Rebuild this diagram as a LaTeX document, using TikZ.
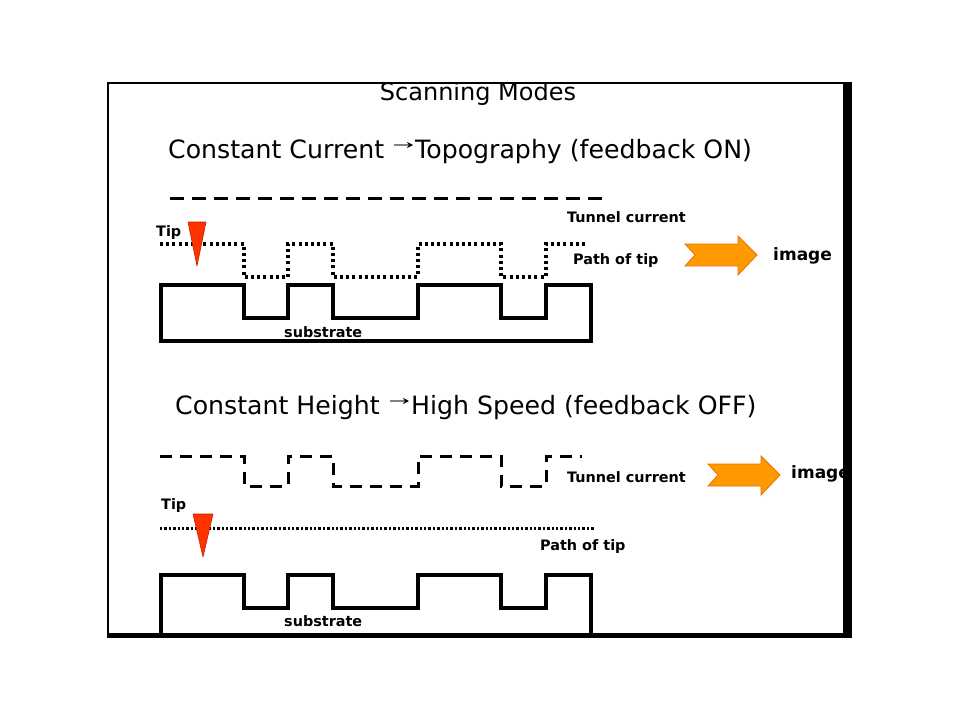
\documentclass[tikz,border=0pt]{standalone}
\usepackage{fontspec}
\setmainfont{DejaVu Sans}
\usetikzlibrary{positioning, calc, arrows.meta}

\definecolor{tipred}{RGB}{255,51,0}
\definecolor{tipedge}{RGB}{200,30,0}
\definecolor{arroworange}{RGB}{255,153,0}
\definecolor{arrowedge}{RGB}{235,110,0}

\tikzset{
  titletext/.style={anchor=base, inner sep=0pt, font=\fontsize{24}{28}\selectfont},
  heading/.style={anchor=base west, inner sep=0pt, font=\fontsize{25.2}{28}\selectfont},
  smalltext/.style={anchor=base west, inner sep=0pt, font=\fontsize{14.4}{16}\selectfont\bfseries},
  imagetext/.style={anchor=base west, inner sep=0pt, font=\fontsize{17}{20}\selectfont\bfseries},
  substrate/.style={line width=3.5pt, line join=miter},
  tippath/.style={line width=3.2pt, dash pattern=on 3pt off 3.2pt},
  tippathdense/.style={line width=3pt, dash pattern=on 2.4pt off 2pt},
  tunnel/.style={line width=3pt, dash pattern=on 14pt off 8pt},
  tipmark/.style={fill=tipred, draw=tipedge, line width=0.6pt, line join=round},
  bigarrow/.style={fill=arroworange, draw=arrowedge, line width=0.8pt, line join=miter},
  smallarrow/.style={draw=gray, line width=1.5pt, -{Stealth[black, length=6pt, width=6pt]}}
}

\begin{document}
\begin{tikzpicture}[x=1pt, y=-1pt]
  \useasboundingbox (0,0) rectangle (960,720);

  \begin{scope}
    \clip (108,83) rectangle (852,638);

    % Title
    \node[titletext] (title) at (478,100) {Scanning Modes};

    % Constant current mode
    \node[heading] (cc) at (168,158) {Constant Current};
    \node[heading] (topo) at (415,158) {Topography (feedback ON)};
    \draw[smallarrow] ($(cc.base east)+(10,-13)$) -- ($(topo.base west)+(-2,-13)$);

    \draw[tunnel] (170,198) -- (605,198);
    \node[smalltext] (tunnel1) at (567,222) {Tunnel current};
    \node[smalltext] (tip1) at (156,236) {Tip};
    \node[smalltext] (path1) at (573,264) {Path of tip};

    \draw[tippath] (160,244) -- (244,244) -- (244,277) -- (288,277) -- (288,244)
      -- (333,244) -- (333,277) -- (418,277) -- (418,244) -- (501,244)
      -- (501,277) -- (546,277) -- (546,244) -- (587,244);
    \draw[tipmark] (188,222) -- (206,222) -- (197,266) -- cycle;

    \draw[substrate] (161,285) -- (244,285) -- (244,318) -- (288,318) -- (288,285)
      -- (333,285) -- (333,318) -- (418,318) -- (418,285) -- (501,285)
      -- (501,318) -- (546,318) -- (546,285) -- (591,285) -- (591,341)
      -- (161,341) -- cycle;
    \node[smalltext] (sub1) at (284,337) {substrate};

    \draw[bigarrow] (685,244) -- (738,244) -- (738,236) -- (757,255) -- (738,275)
      -- (738,266) -- (685,266) -- (695,255) -- cycle;
    \node[imagetext] (image1) at (773,260) {image};

    % Constant height mode
    \node[heading] (ch) at (175,414) {Constant Height};
    \node[heading] (speed) at (411,414) {High Speed (feedback OFF)};
    \draw[smallarrow] ($(ch.base east)+(10,-13)$) -- ($(speed.base west)+(-2,-13)$);

    \draw[tunnel, dash pattern=on 12pt off 8pt] (160,456) -- (244,456) -- (244,486)
      -- (288,486) -- (288,456) -- (333,456) -- (333,486) -- (418,486)
      -- (418,456) -- (501,456) -- (501,486) -- (546,486) -- (546,456) -- (582,456);
    \node[smalltext] (tunnel2) at (567,482) {Tunnel current};

    \draw[bigarrow] (708,464) -- (761,464) -- (761,456) -- (780,475) -- (761,495)
      -- (761,486) -- (708,486) -- (718,475) -- cycle;
    \node[imagetext] (image2) at (791,478) {image};

    \node[smalltext] (tip2) at (161,509) {Tip};
    \draw[tippathdense] (160,528) -- (595,528);
    \draw[tipmark] (193,514) -- (213,514) -- (203,557) -- cycle;
    \node[smalltext] (path2) at (540,550) {Path of tip};

    \draw[substrate] (161,634) -- (161,575) -- (244,575) -- (244,608) -- (288,608)
      -- (288,575) -- (333,575) -- (333,608) -- (418,608) -- (418,575)
      -- (501,575) -- (501,608) -- (546,608) -- (546,575) -- (591,575)
      -- (591,634);
    \node[smalltext] (sub2) at (284,626) {substrate};
  \end{scope}

  % Frame
  \draw[line width=2.5pt] (108,83) rectangle (847,636);
  \fill (843,82) rectangle (852,638);
  \fill (107,633) rectangle (852,638);
\end{tikzpicture}
\end{document}
